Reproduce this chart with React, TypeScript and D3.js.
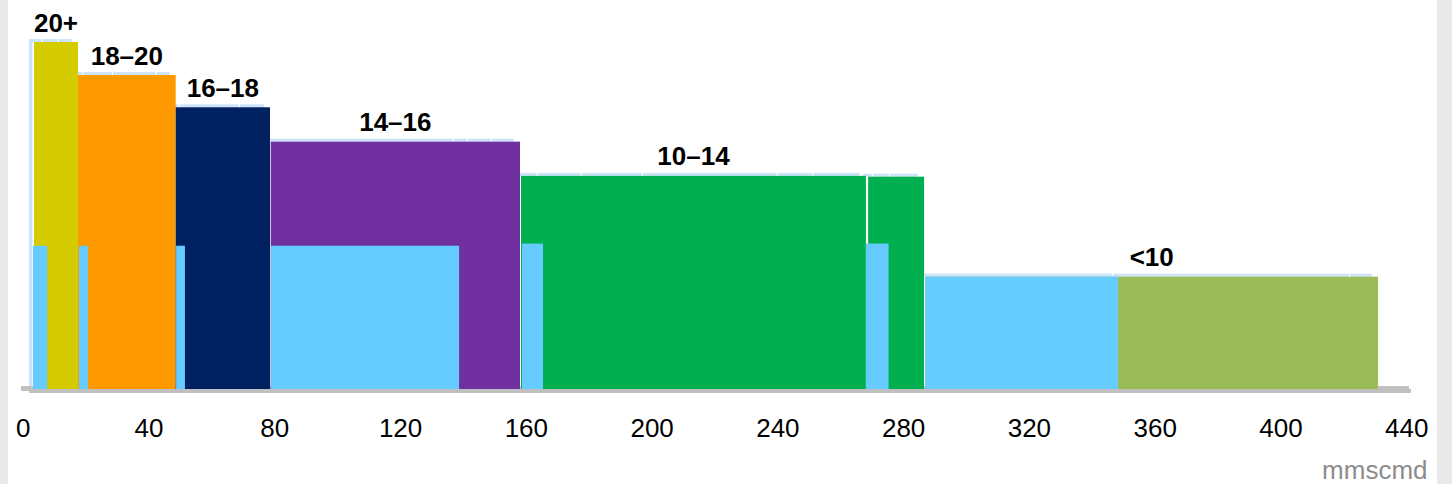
import React from "react";
import * as d3 from "d3";

// Cost bands along the cumulative volume axis
const bandLabels = ["20+", "18–20", "16–18", "14–16", "10–14", "", "<10"];
const bandStart = [3.4, 17.4, 48.47, 78.69, 158.3, 268.7, 286.9];
const bandEnd = [17.4, 48.47, 78.46, 157.98, 268.0, 286.5, 430.9];
const bandHeight = [21, 19, 17.05, 14.97, 12.9, 12.85, 6.8];
const bandColors = ["#d4cc00", "#ff9900", "#002060", "#7030a0", "#00b050", "#00b050", "#9bbb59"];

// Boundaries between individual entries inside each band
const itemBreaks = [
  [7.7, 12.94],
  [20.74, 30.12, 44.02],
  [51.43, 70.51],
  [138.58, 143.03, 150.66],
  [165.3, 179.3, 198.7, 241.6, 252.8],
  [271.9, 277.3],
  [348.2, 423.6],
];

// Highlighted sub-volumes drawn over the bands
const blueStart = [3.1, 17.7, 48.6, 78.8, 158.6, 268.0, 286.9];
const blueEnd = [7.6, 20.6, 51.4, 138.6, 165.3, 275.2, 348.2];
const blueHeight = [8.67, 8.67, 8.67, 8.67, 8.8, 8.8, 6.8];

const xTicks = [0, 40, 80, 120, 160, 200, 240, 280, 320, 360, 400, 440];
const unitLabel = "mmscmd";

const W = 1452;
const H = 484;
const FONT = "'Liberation Sans', Arial, Helvetica, sans-serif";

export default function App() {
  const x = d3.scaleLinear().domain([0, 440]).range([23.3, 1406.7]);
  const y = d3.scaleLinear().domain([0, 21]).range([389, 42]);
  const base = y(0);
  const depthX = 5;
  const depthY = 3;

  // top faces for every entry
  const tops: { x0: number; x1: number; h: number }[] = [];
  bandStart.forEach((s, i) => {
    const edges = [s, ...itemBreaks[i], bandEnd[i]];
    for (let k = 0; k < edges.length - 1; k++) {
      tops.push({ x0: edges[k], x1: edges[k + 1], h: bandHeight[i] });
    }
  });

  return (
    <svg
      width={W}
      height={H}
      style={{ position: "absolute", left: 0, top: 0, display: "block" }}
      fontFamily={FONT}
    >
      <rect x={0} y={0} width={W} height={H} fill="#e9e9e9" />
      <rect x={8} y={0} width={1437 - 8} height={H} fill="#ffffff" />

      {/* baseline with its offset shadow */}
      <rect x={21} y={base - 3} width={1409 - 21} height={5} fill="#c0c0c0" />
      <rect x={29} y={base} width={1411 - 29} height={4} fill="#c0c0c0" />

      {/* side face of the first column */}
      <rect
        x={x(bandStart[0]) - depthX}
        y={y(bandHeight[0]) - depthY}
        width={depthX - 1.5}
        height={base - depthY - (y(bandHeight[0]) - depthY)}
        fill="#cce4fb"
      />
      {/* top faces */}
      {tops.map((t, i) => (
        <rect
          key={`t${i}`}
          x={x(t.x0) - depthX}
          y={y(t.h) - depthY}
          width={Math.max(0, x(t.x1) - x(t.x0) - 1.2)}
          height={depthY}
          fill="#cce4fb"
        />
      ))}

      {/* bands */}
      {bandStart.map((s, i) => (
        <rect
          key={`b${i}`}
          x={x(s)}
          y={y(bandHeight[i])}
          width={x(bandEnd[i]) - x(s)}
          height={base - y(bandHeight[i])}
          fill={bandColors[i]}
        />
      ))}

      {/* highlighted sub-volumes */}
      {blueStart.map((s, i) => (
        <rect
          key={`u${i}`}
          x={x(s)}
          y={y(blueHeight[i])}
          width={x(blueEnd[i]) - x(s)}
          height={base - y(blueHeight[i])}
          fill="#66ccff"
        />
      ))}

      {/* band labels */}
      {bandLabels.map((lab, i) =>
        lab ? (
          <text
            key={`l${i}`}
            x={(x(bandStart[i]) + x(bandEnd[i])) / 2}
            y={y(bandHeight[i]) - 10.5}
            textAnchor="middle"
            fontSize={26}
            fontWeight="bold"
            fill="#000"
          >
            {lab}
          </text>
        ) : null
      )}

      {/* x axis tick labels */}
      {xTicks.map((v) => (
        <text key={`x${v}`} x={x(v)} y={437} textAnchor="middle" fontSize={26} fill="#000">
          {v}
        </text>
      ))}
      <text x={1427.5} y={479} textAnchor="end" fontSize={26} fill="#8c8c8c">
        {unitLabel}
      </text>
    </svg>
  );
}
